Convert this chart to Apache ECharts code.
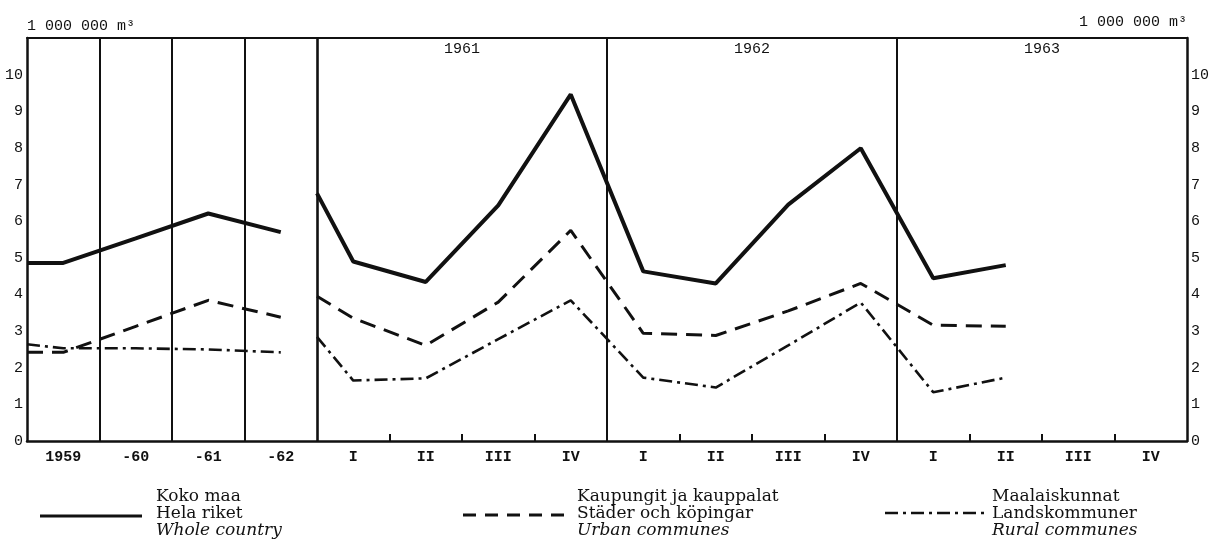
<!DOCTYPE html>
<html>
<head>
<meta charset="utf-8">
<script src="https://cdn.jsdelivr.net/npm/echarts@6/dist/echarts.min.js"></script>
<style>
html,body{margin:0;padding:0;background:#fff;}
#chart{width:1225px;height:539px;}
</style>
</head>
<body>
<div id="chart"></div>
<script>
// ---- data ----
const annualLabels = ['1959', '-60', '-61', '-62'];
const quarterLabels = ['I', 'II', 'III', 'IV'];
const quarterYears = ['1961', '1962', '1963'];
const unitName = '1 000 000 m³';

// Whole country (Koko maa / Hela riket)
const wholeAnnualStart = 4.86;
const wholeAnnual = [4.86, 5.53, 6.21, 5.70];
const wholeQuarterStart = 6.76;
const wholeQuarter = [4.90, 4.34, 6.43, 9.46, 4.63, 4.30, 6.45, 7.99, 4.44, 4.80];

// Urban communes (Kaupungit ja kauppalat / Städer och köpingar)
const urbanAnnualStart = 2.42;
const urbanAnnual = [2.42, 3.13, 3.84, 3.38];
const urbanQuarterStart = 3.95;
const urbanQuarter = [3.35, 2.61, 3.79, 5.75, 2.94, 2.88, 3.55, 4.30, 3.16, 3.13];

// Rural communes (Maalaiskunnat / Landskommuner)
const ruralAnnualStart = 2.64;
const ruralAnnual = [2.53, 2.53, 2.50, 2.42];
const ruralQuarterStart = 2.84;
const ruralQuarter = [1.65, 1.71, 2.78, 3.84, 1.73, 1.46, 2.61, 3.78, 1.33, 1.73];

const wholeNames = ['Koko maa', 'Hela riket', 'Whole country'];
const urbanNames = ['Kaupungit ja kauppalat', 'Städer och köpingar', 'Urban communes'];
const ruralNames = ['Maalaiskunnat', 'Landskommuner', 'Rural communes'];

// ---- build ----
const nAnnual = annualLabels.length;
const nSlots = nAnnual + quarterYears.length * quarterLabels.length;
const slotLabels = annualLabels.slice();
quarterYears.forEach(() => quarterLabels.forEach(q => slotLabels.push(q)));

function annualData(start, vals) {
  return [[0, start]].concat(vals.map((v, i) => [i + 0.5, v]));
}
function quarterData(start, vals) {
  return [[nAnnual, start]].concat(vals.map((v, i) => [nAnnual + i + 0.5, v]));
}

const labelValues = slotLabels.map((_, i) => i + 0.5);
const yearBoundaries = quarterYears.map((_, i) => nAnnual + i * 4);
const yearCenters = quarterYears.map((_, i) => nAnnual + i * 4 + 2);
const dividerValues = [1, 2, 3].concat(yearBoundaries);
const tickValues = [];
for (let s = nAnnual; s < nSlots; s++) { if ((s - nAnnual) % 4 !== 0) tickValues.push(s); }

const INK = '#111';
const MONO = '"Liberation Mono", "DejaVu Sans Mono", monospace';
const SERIF = '"DejaVu Serif", "Liberation Serif", serif';

const solidStyle = { color: INK, width: 4, type: 'solid' };
const dashStyle = { color: INK, width: 3, type: [16, 9] };
const dashDotStyle = { color: INK, width: 2.6, type: [13, 5, 3, 5] };

function lineSeries(data, style, extra) {
  return Object.assign({
    type: 'line', data: data, symbol: 'none', lineStyle: style,
    silent: true, animation: false, z: 3
  }, extra || {});
}

function yAxisDef(pos, align, gap) {
  return {
    type: 'value', min: 0, max: 11, interval: 1, position: pos,
    axisLine: { show: true, onZero: false, lineStyle: { color: INK, width: 2.5 } },
    axisTick: { show: false },
    splitLine: { show: false },
    name: unitName,
    nameLocation: 'end',
    nameGap: gap,
    nameTextStyle: { color: INK, fontFamily: MONO, fontSize: 15, align: align, verticalAlign: 'bottom' },
    axisLabel: {
      margin: 4, color: INK, fontFamily: MONO, fontSize: 15,
      formatter: v => (v > 10 ? '' : String(v))
    }
  };
}

function legendGroup(x1, x2, lineY, textX, names, style) {
  const els = [{
    type: 'line',
    shape: { x1: x1, y1: lineY, x2: x2, y2: lineY },
    style: { stroke: INK, lineWidth: style.width, lineDash: Array.isArray(style.type) ? style.type : null }
  }];
  names.forEach((t, i) => {
    els.push({
      type: 'text',
      x: textX, y: 497 + i * 17,
      style: {
        text: t, fill: INK, fontFamily: SERIF, fontSize: 17,
        fontStyle: i === 2 ? 'italic' : 'normal',
        verticalAlign: 'middle', align: 'left'
      }
    });
  });
  return els;
}

const chart = echarts.init(document.getElementById('chart'), null, { renderer: 'canvas' });
chart.setOption({
  backgroundColor: '#fff',
  animation: false,
  grid: { left: 27, right: 38, top: 38, bottom: 98, containLabel: false, outerBoundsMode: 'none' },
  xAxis: [{
    type: 'value', min: 0, max: nSlots, position: 'bottom',
    axisLine: { show: true, onZero: false, lineStyle: { color: INK, width: 2.5 } },
    splitLine: { show: false },
    axisTick: { show: true, inside: true, length: 7, customValues: tickValues, lineStyle: { color: INK, width: 2 } },
    axisLabel: {
      customValues: labelValues, margin: 9, color: INK, fontFamily: MONO, fontSize: 15, fontWeight: 'bold',
      formatter: v => slotLabels[Math.floor(v)] || ''
    }
  }, {
    type: 'value', min: 0, max: nSlots, position: 'top',
    axisLine: { show: true, onZero: false, lineStyle: { color: INK, width: 2 } },
    splitLine: { show: false },
    axisTick: { show: false },
    axisLabel: {
      inside: true, customValues: yearCenters, margin: 4, color: INK, fontFamily: MONO, fontSize: 15,
      formatter: v => quarterYears[yearCenters.indexOf(v)] || ''
    }
  }],
  yAxis: [yAxisDef('left', 'left', 4), yAxisDef('right', 'right', 8)],
  series: [
    lineSeries(annualData(wholeAnnualStart, wholeAnnual), solidStyle, {
      markLine: {
        silent: true, symbol: 'none', animation: false,
        label: { show: false },
        lineStyle: { color: INK, width: 2, type: 'solid' },
        data: dividerValues.map(v => ({ xAxis: v, lineStyle: { width: v === nAnnual ? 2.6 : 2 } }))
      }
    }),
    lineSeries(quarterData(wholeQuarterStart, wholeQuarter), solidStyle),
    lineSeries(annualData(urbanAnnualStart, urbanAnnual), dashStyle),
    lineSeries(quarterData(urbanQuarterStart, urbanQuarter), dashStyle),
    lineSeries(annualData(ruralAnnualStart, ruralAnnual), dashDotStyle),
    lineSeries(quarterData(ruralQuarterStart, ruralQuarter), dashDotStyle)
  ],
  graphic: [].concat(
    legendGroup(40, 142, 516, 156, wholeNames, { width: 3, type: 'solid' }),
    legendGroup(463, 567, 515, 577, urbanNames, { width: 3, type: [13, 9] }),
    legendGroup(885, 987, 513, 992, ruralNames, { width: 2.6, type: [13, 5, 3, 5] })
  )
});
</script>
</body>
</html>
